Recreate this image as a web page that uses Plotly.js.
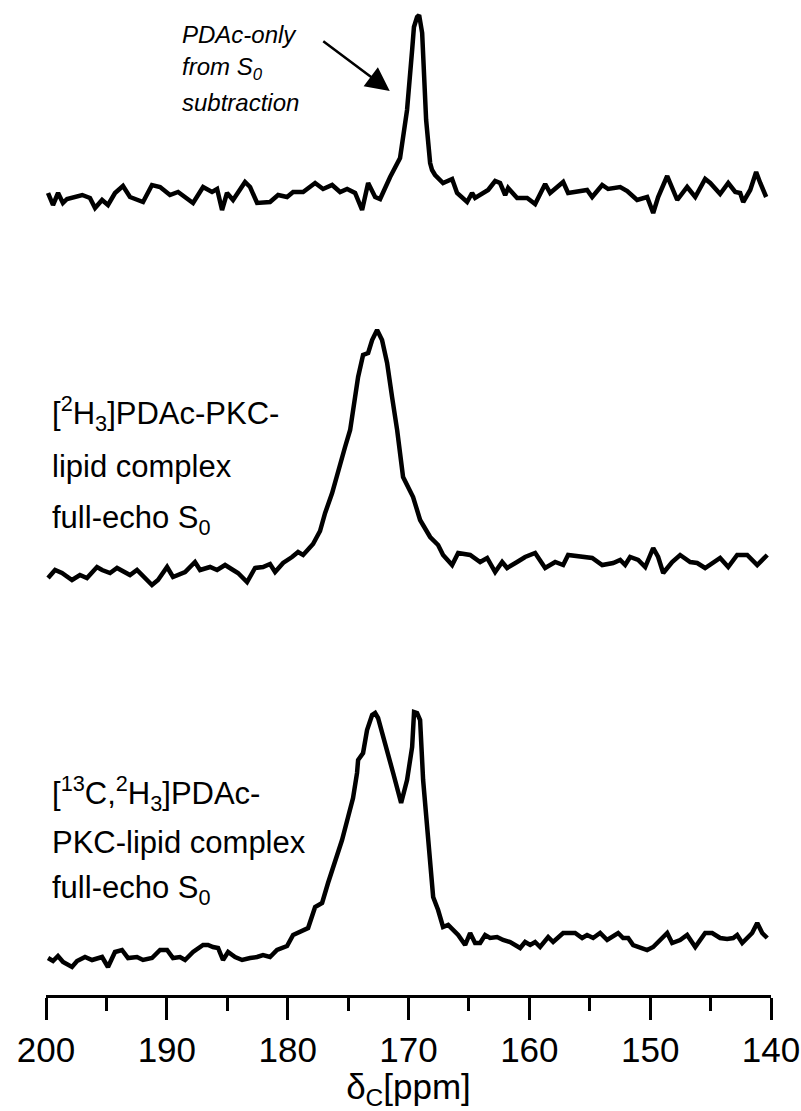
<!DOCTYPE html>
<html>
<head>
<meta charset="utf-8">
<script src="https://cdn.plot.ly/plotly-3.0.1.min.js"></script>
<style>
html,body{margin:0;padding:0;background:#fff;}
#chart{width:801px;height:1111px;}
</style>
</head>
<body>
<div id="chart"></div>
<script>
// ---- Data (chemical shift in ppm, intensity in arbitrary units) ----
const topPpm = [199.83,199.42,199.00,198.60,198.26,197.00,196.36,195.94,195.36,194.87,194.29,193.63,193.05,191.97,191.23,190.56,189.74,189.07,187.83,187.00,186.26,185.84,185.43,185.02,184.52,183.53,183.11,182.53,181.46,180.79,180.05,179.55,178.72,177.73,177.07,176.32,175.66,175.08,174.42,173.84,173.34,172.76,172.35,171.52,170.70,170.12,169.70,169.55,169.29,169.12,168.87,168.54,168.21,168.05,167.80,167.14,166.39,165.98,165.15,164.74,164.49,163.41,162.83,162.42,162.00,161.75,161.01,160.18,159.52,158.69,158.28,157.20,156.79,156.04,155.22,154.80,153.97,153.48,152.48,151.90,151.08,150.25,149.75,149.34,148.59,147.76,146.94,146.27,145.45,145.03,144.21,143.54,142.96,142.55,142.30,141.72,141.23,140.89,140.40];
const topInt = [2,-10,2,-8,-4,0,-3,-13,-5,-10,2,9,-2,-7,10,8,0,3,-8,8,3,6,-15,2,-5,13,8,-8,-7,0,-2,3,3,12,6,10,3,6,2,-15,12,-2,-4,18,37,85,145,168,178,180,162,75,32,25,20,12,16,2,-7,2,-3,5,14,12,0,7,-3,-3,-9,11,2,13,2,3,5,-2,10,6,8,4,-5,-2,-18,-2,19,-5,8,-2,16,12,1,12,3,2,-7,5,23,12,-2];

const midPpm = [199.83,199.25,198.68,197.85,197.19,196.61,195.78,195.36,194.70,194.12,193.05,192.47,191.23,190.73,189.98,189.49,188.49,187.67,187.25,186.42,185.84,185.18,184.52,184.11,183.36,182.70,182.04,181.46,181.04,180.38,179.64,179.14,178.72,177.90,177.32,176.90,176.32,175.83,175.25,174.83,174.42,174.17,173.76,173.34,173.01,172.60,172.19,171.77,171.36,170.94,170.45,169.62,169.04,168.21,167.55,167.14,166.39,165.89,164.90,164.07,163.49,162.83,162.25,161.84,161.01,160.35,159.52,158.69,157.86,157.20,156.79,155.79,154.80,153.97,153.06,152.48,152.07,151.66,150.99,150.41,149.75,149.34,148.92,148.18,147.52,146.69,146.11,145.45,144.78,144.21,143.54,142.80,141.97,141.14,140.31];
const midInt = [-3,5,2,-5,0,-3,8,5,2,7,0,5,-10,-5,8,-2,3,13,5,8,5,10,5,2,-7,7,8,11,3,12,18,23,20,31,44,62,82,105,128,145,175,198,220,222,235,245,235,212,178,145,98,78,55,38,30,20,10,22,20,13,17,3,13,7,13,18,22,7,13,10,20,18,17,10,12,15,10,18,15,8,27,18,2,13,20,13,12,7,13,17,8,20,20,10,20];

const botPpm = [199.83,199.42,199.01,198.59,197.85,197.43,196.77,196.19,195.36,194.87,194.29,193.71,193.21,192.47,191.97,191.23,190.56,189.98,189.49,188.91,188.49,187.83,187.00,186.59,186.18,185.76,185.35,184.93,184.35,183.77,183.11,182.53,182.04,181.46,180.88,180.38,180.05,179.55,178.97,178.31,177.73,177.15,176.66,176.08,175.50,175.00,174.59,174.26,174.17,173.76,173.43,173.01,172.76,172.52,171.94,171.27,170.61,170.12,169.70,169.54,169.29,169.04,168.79,168.46,168.21,167.96,167.55,167.14,166.72,165.89,165.31,164.90,164.49,164.07,163.66,163.25,162.67,162.17,161.59,160.76,160.35,159.93,159.52,159.11,158.44,158.03,157.20,156.21,155.63,155.22,154.72,154.14,153.56,152.65,152.24,151.82,151.41,150.83,150.25,149.75,149.34,148.59,148.18,147.52,146.94,146.27,145.45,144.87,144.21,143.63,143.13,142.80,142.38,141.89,141.56,141.14,140.73,140.31];
const botInt = [-3,-6,-1,-7,-12,-6,-2,-5,-2,-12,3,5,-3,-2,-5,-3,5,5,-3,-2,-5,3,10,10,8,7,-5,3,-2,-5,-3,-2,0,-2,5,8,9,20,23,27,48,52,72,93,115,138,157,182,195,202,225,240,242,237,213,182,152,175,208,243,242,235,175,125,85,58,45,28,30,20,10,22,12,12,20,17,18,15,13,7,13,10,13,8,18,13,22,22,17,20,17,22,15,22,17,17,10,7,5,8,13,22,12,15,20,8,22,22,17,16,17,20,12,18,22,32,22,17];

const xTickVals = [200,190,180,170,160,150,140];
const xTickText = ['200','190','180','170','160','150','140'];

// ---- Presentation (vertical stacking offsets, styles) ----
const offsets = {top: 800, mid: 420, bot: 40};
const lineStyle = {color: '#000', width: 4.5};
const FONT = '"Liberation Sans", Arial, Helvetica, sans-serif';

function shifted(arr, off){ return arr.map(v => v + off); }

const traces = [
  {x: topPpm, y: shifted(topInt, offsets.top), mode: 'lines', line: lineStyle, hoverinfo: 'skip', cliponaxis: false},
  {x: midPpm, y: shifted(midInt, offsets.mid), mode: 'lines', line: lineStyle, hoverinfo: 'skip', cliponaxis: false},
  {x: botPpm, y: shifted(botInt, offsets.bot), mode: 'lines', line: lineStyle, hoverinfo: 'skip', cliponaxis: false}
];

function lbl(text, x, y, size, italic){
  return {text: text, x: x, y: y, xref: 'x', yref: 'y', xanchor: 'left', yanchor: 'middle',
          showarrow: false, font: {family: FONT, size: size, color: '#000', style: italic ? 'italic' : 'normal'}};
}

const annotations = [
  lbl('PDAc-only', 188.9, 961, 24, true),
  lbl('from S<sub>0</sub>', 188.9, 927, 24, true),
  lbl('subtraction', 188.9, 893, 24, true),
  lbl('[<sup>2</sup>H<sub>3</sub>]PDAc-PKC-', 199.7, 582, 31, false),
  lbl('lipid complex', 199.7, 529, 31, false),
  lbl('full-echo S<sub>0</sub>', 199.7, 475, 31, false),
  lbl('[<sup>13</sup>C,<sup>2</sup>H<sub>3</sub>]PDAc-', 199.7, 202, 31, false),
  lbl('PKC-lipid complex', 199.7, 153, 31, false),
  lbl('full-echo S<sub>0</sub>', 199.7, 105, 31, false),
  {text: '', x: 171.55, y: 904, xref: 'x', yref: 'y', ax: -68, ay: -51, axref: 'pixel', ayref: 'pixel',
   showarrow: true, arrowhead: 2, arrowsize: 1.9, arrowwidth: 2.5, arrowcolor: '#000', standoff: 0}
];

const layout = {
  width: 801, height: 1111,
  margin: {l: 46, r: 30, t: 5, b: 116, pad: 0},
  paper_bgcolor: '#fff', plot_bgcolor: '#fff',
  showlegend: false,
  font: {family: FONT, color: '#000'},
  xaxis: {
    range: [200, 140], autorange: false,
    tickmode: 'array', tickvals: xTickVals, ticktext: xTickText,
    ticks: 'outside', ticklen: 22, tickwidth: 3, tickcolor: '#000',
    ticklabeloverflow: 'allow',
    minor: {tickmode: 'linear', tick0: 200, dtick: 5, ticks: 'outside', ticklen: 13, tickwidth: 3, tickcolor: '#000'},
    showline: true, linewidth: 3, linecolor: '#000',
    showgrid: false, zeroline: false,
    tickfont: {family: FONT, size: 35, color: '#000'},
    title: {text: 'δ<sub>C</sub>[ppm]', font: {family: FONT, size: 35, color: '#000'}, standoff: 17}
  },
  yaxis: {range: [0, 990], autorange: false, visible: false, showgrid: false, zeroline: false},
  annotations: annotations
};

Plotly.newPlot('chart', traces, layout, {displayModeBar: false, staticPlot: true});
</script>
</body>
</html>
